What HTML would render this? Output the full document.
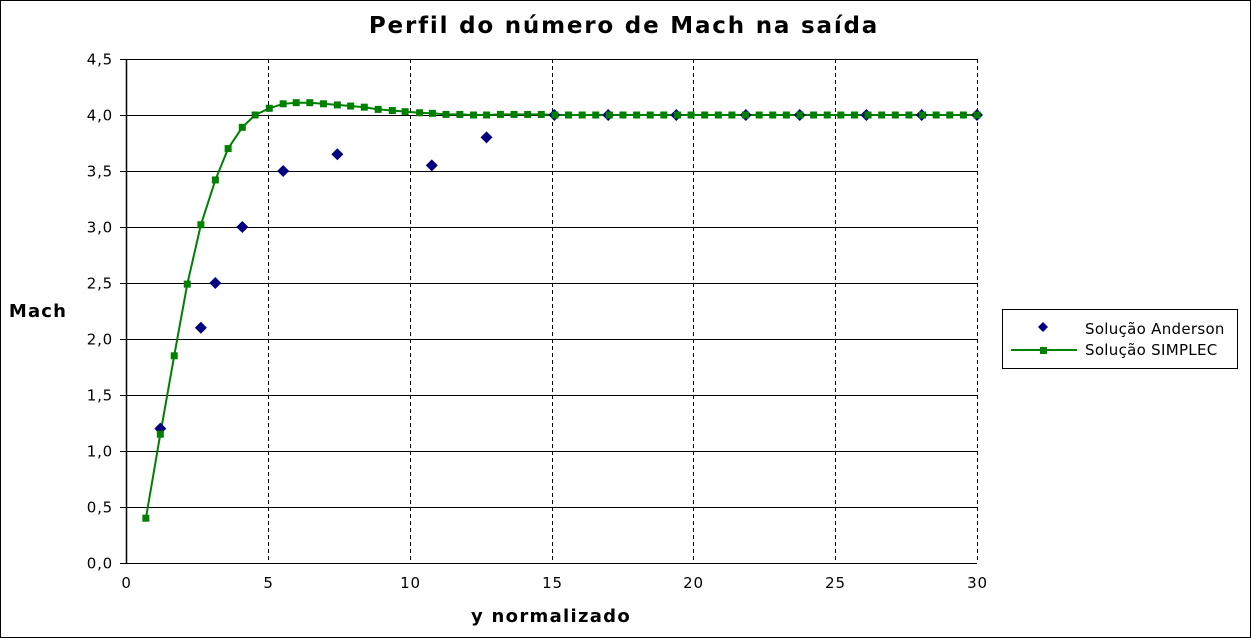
<!DOCTYPE html>
<html><head><meta charset="utf-8"><style>
body{margin:0;background:#fff}
svg{display:block;font-family:"DejaVu Sans","Liberation Sans",sans-serif}
</style></head><body>
<svg id="c" width="1251" height="638">
<rect x="0.5" y="0.5" width="1250" height="637" fill="#fff" stroke="#000"/>
<text x="624" y="33" text-anchor="middle" font-size="23" font-weight="bold" letter-spacing="1.8">Perfil do número de Mach na saída</text>
<text x="38" y="317" text-anchor="middle" font-size="18" font-weight="bold" letter-spacing="1.2">Mach</text>
<text x="551" y="622" text-anchor="middle" font-size="18" font-weight="bold" letter-spacing="1.3">y normalizado</text>
<g id="grid"></g><g id="axes"></g><g id="series"></g>
<g>
<rect x="1002.5" y="309.5" width="235" height="59" fill="#fff" stroke="#000"/>
<path d="M1043 322 l5 5 l-5 5 l-5 -5z" fill="#000080"/>
<text x="1085" y="334" font-size="15" letter-spacing="0.3">Solução Anderson</text>
<line x1="1011" y1="350" x2="1077" y2="350" stroke="#008000" stroke-width="2"/>
<rect x="1040" y="347" width="7" height="7" fill="#008000"/>
<text x="1085" y="355" font-size="15" letter-spacing="0.3">Solução SIMPLEC</text>
</g>
</svg>
<script>
const yTicks=[0,0.5,1,1.5,2,2.5,3,3.5,4,4.5];
const yTickLabels=["0,0","0,5","1,0","1,5","2,0","2,5","3,0","3,5","4,0","4,5"];
const xTicks=[0,5,10,15,20,25,30];
const andersonX=[1.21,2.64,3.15,4.10,5.54,7.45,10.78,12.71,15.1,17.0,19.4,21.85,23.75,26.1,28.05,30.0];
const andersonY=[1.20,2.10,2.50,3.00,3.50,3.65,3.55,3.80,4.0,4.0,4.0,4.0,4.0,4.0,4.0,4.0];
const simplecX=[0.70,1.21,1.70,2.16,2.64,3.15,3.60,4.10,4.55,5.05,5.54,6.00,6.48,6.96,7.45,7.92,8.40,8.89,9.39,9.84,10.35,10.80,11.28,11.77,12.25,12.71,13.20,13.68,14.16,14.64,15.12,15.60,16.08,16.56,17.04,17.52,18.00,18.48,18.96,19.44,19.92,20.40,20.88,21.36,21.84,22.32,22.80,23.28,23.76,24.24,24.72,25.20,25.68,26.16,26.64,27.12,27.60,28.08,28.56,29.04,29.52,30.00];
const simplecY=[0.40,1.15,1.85,2.49,3.02,3.42,3.70,3.89,4.00,4.06,4.10,4.11,4.11,4.10,4.09,4.08,4.07,4.05,4.04,4.03,4.02,4.015,4.005,4.005,4.0,4.0,4.005,4.005,4.005,4.005,4.0,4.0,4.0,4.0,4.0,4.0,4.0,4.0,4.0,4.0,4.0,4.0,4.0,4.0,4.0,4.0,4.0,4.0,4.0,4.0,4.0,4.0,4.0,4.0,4.0,4.0,4.0,4.0,4.0,4.0,4.0,4.0];
const NS="http://www.w3.org/2000/svg";
const X0=126,X1=977,Y0=563,Y1=59;
const sx=v=>X0+(v-0)/30*(X1-X0);
const sy=v=>Y0-(v/4.5)*(Y0-Y1);
function mk(tag,attrs,parent){const e=document.createElementNS(NS,tag);for(const k in attrs)e.setAttribute(k,attrs[k]);parent.appendChild(e);return e;}
const grid=document.getElementById('grid'),axes=document.getElementById('axes'),ser=document.getElementById('series');
yTicks.forEach((t,i)=>{
  const y=Math.round(sy(t))+0.5;
  const l=mk('line',{x1:120,x2:X1,y1:y,y2:y,stroke:'#000','stroke-width':1},grid);
  
  
  const tx=mk('text',{x:113,y:y+5,'text-anchor':'end','font-size':15,'letter-spacing':0.8},axes);
  tx.textContent=yTickLabels[i];
  
  
});
xTicks.forEach(t=>{
  const x=Math.round(sx(t))+0.5;
  if(t>0){const l=mk('line',{x1:x,x2:x,y1:Y1,y2:Y0,stroke:'#000','stroke-width':1,'stroke-dasharray':'4,3'},grid);
  
  }
  const tx=mk('text',{x:x,y:Y0+25,'text-anchor':'middle','font-size':15,'letter-spacing':0.8},axes);
  tx.textContent=String(t);
  
  
});
const ax=mk('line',{x1:X0+0.5,x2:X0+0.5,y1:Y1,y2:Y0,stroke:'#000','stroke-width':1.5},axes);


const bx=mk('line',{x1:X0,x2:X1,y1:Y0+0.5,y2:Y0+0.5,stroke:'#000','stroke-width':1},axes);


const pts=simplecX.map((x,i)=>sx(x).toFixed(1)+','+sy(simplecY[i]).toFixed(1)).join(' ');
const pl=mk('polyline',{points:pts,fill:'none',stroke:'#008000','stroke-width':2},ser);


andersonX.forEach((x,i)=>{
  const cx=sx(x),cy=sy(andersonY[i]);
  const p=mk('path',{d:`M${cx} ${cy-6} l6 6 l-6 6 l-6 -6z`,fill:'#000080'},ser);
  
  
});
simplecX.forEach((x,i)=>{
  const r=mk('rect',{x:sx(x)-3.5,y:sy(simplecY[i])-3.5,width:7,height:7,fill:'#008000'},ser);
  
  
});
</script>
</body></html>
